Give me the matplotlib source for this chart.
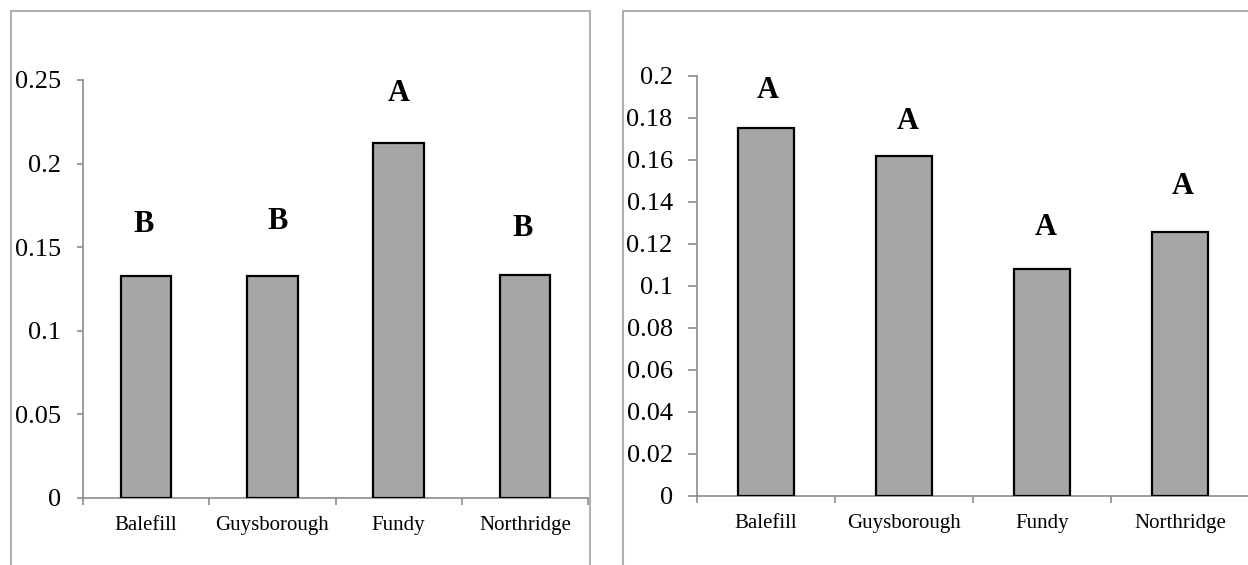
import matplotlib
matplotlib.use("Agg")
import matplotlib.pyplot as plt
from matplotlib.patches import Rectangle
from matplotlib.ticker import FixedLocator, MultipleLocator, FuncFormatter

plt.rcParams["font.family"] = ["Liberation Serif", "DejaVu Serif"]

# Site categories and measured values for the two panels
sites = ["Balefill", "Guysborough", "Fundy", "Northridge"]
left_values = [0.133, 0.1328, 0.2121, 0.1336]
right_values = [0.1751, 0.1617, 0.1081, 0.1259]

# Significance groupings shown above each bar
left_letters = ["B", "B", "A", "B"]
right_letters = ["A", "A", "A", "A"]

BAR_COLOR = "#a6a6a6"
AXIS_COLOR = "#8c8c8c"
FRAME_COLOR = "#b0b0b0"

fig = plt.figure(figsize=(12.48, 5.65), dpi=100)
W, H = 1248, 565


def px_axes(x0, y_top, x1, y_bottom):
    return fig.add_axes([x0 / W, 1 - y_bottom / H, (x1 - x0) / W, (y_bottom - y_top) / H])


# Outer frames around each panel
fig.patches.append(Rectangle((11 / W, -0.1), (590 - 11) / W, 1.1 - 11 / H,
                             transform=fig.transFigure, fill=False,
                             edgecolor=FRAME_COLOR, lw=1.5))
fig.patches.append(Rectangle((623 / W, -0.1), 0.6, 1.1 - 11 / H,
                             transform=fig.transFigure, fill=False,
                             edgecolor=FRAME_COLOR, lw=1.5))


def fmt(v, _):
    s = f"{v:.2f}".rstrip("0").rstrip(".")
    return s if s else "0"


def draw_panel(ax, values, letters, ymax, ystep, ytick_len, gaps, dxs):
    x = list(range(len(sites)))
    ax.bar(x, values, width=0.4, color=BAR_COLOR, edgecolor="black", linewidth=1.6, zorder=3)
    ax.set_xlim(-0.5, len(sites) - 0.5)
    ax.set_ylim(0, ymax)
    for side in ("top", "right"):
        ax.spines[side].set_visible(False)
    for side in ("left", "bottom"):
        ax.spines[side].set_color(AXIS_COLOR)
        ax.spines[side].set_linewidth(1.2)
    ax.yaxis.set_major_locator(MultipleLocator(ystep))
    ax.yaxis.set_major_formatter(FuncFormatter(fmt))
    ax.tick_params(axis="y", direction="out", length=ytick_len, width=1.2,
                   color=AXIS_COLOR, labelsize=19, pad=11)
    ax.set_xticks(x)
    ax.set_xticklabels(sites)
    ax.xaxis.set_minor_locator(FixedLocator([i - 0.5 for i in range(len(sites) + 1)]))
    ax.tick_params(axis="x", which="major", length=0, labelsize=15, pad=13)
    ax.tick_params(axis="x", which="minor", direction="out", length=5, width=1.2,
                   color=AXIS_COLOR)
    for xi, v, lab, g, dx in zip(x, values, letters, gaps, dxs):
        ax.annotate(lab, (xi, v), xytext=(dx, g), textcoords="offset points",
                    ha="center", va="center", fontsize=22, fontweight="bold")


ax_left = px_axes(83, 80, 588, 498)
draw_panel(ax_left, left_values, left_letters, 0.25, 0.05, 4.5,
           [36.5, 39, 36, 33.5], [-2, 4, 0, -1.5])

ax_right = px_axes(697, 76, 1249, 496)
draw_panel(ax_right, right_values, right_letters, 0.2, 0.02, 6.5,
           [27.5, 25, 30, 32.5], [1.5, 3, 3, 2])

fig.savefig("out.png", dpi=100, facecolor="white")
